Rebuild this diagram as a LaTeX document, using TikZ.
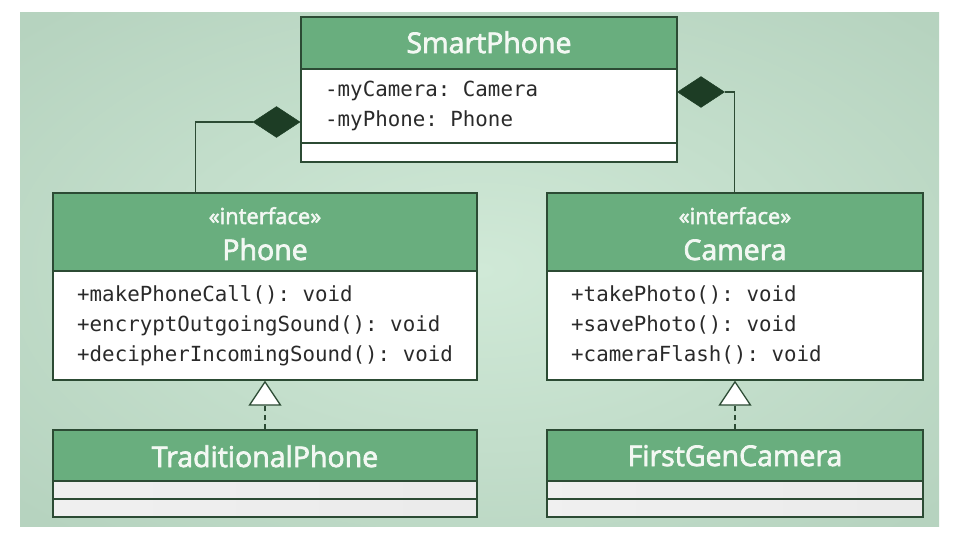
\documentclass[tikz,border=0pt]{standalone}
\usepackage{fontspec}
\setmainfont{Open Sans}
\setmonofont{DejaVu Sans Mono}
\newfontfamily\hdrfont{Open Sans}[FakeBold=2.5]
\usetikzlibrary{shapes.geometric,arrows.meta}
\definecolor{bgin}{HTML}{D0E9D7}
\definecolor{bgout}{HTML}{B6D3BF}
\definecolor{hdrgreen}{HTML}{69AE7E}
\definecolor{border}{HTML}{2C4B34}
\definecolor{dia}{HTML}{1D3D25}
\definecolor{hdrtext}{HTML}{F3F8F3}
\definecolor{bodytext}{HTML}{2A2A2A}
\begin{document}
\begin{tikzpicture}[x=1pt,y=-1pt,
  cls/.style={rectangle, draw=border, line width=1.3pt, inner sep=0pt},
  hdr/.style={cls, fill=hdrgreen},
  body/.style={cls, fill=white},
  comp/.style={cls, left color=black!6, middle color=white, right color=black!8},
  title/.style={font=\hdrfont\fontsize{28.5}{34}\selectfont, text=hdrtext, inner sep=0pt, anchor=base},
  stereo/.style={font=\hdrfont\fontsize{22}{26}\selectfont, text=hdrtext, inner sep=0pt, anchor=base},
  member/.style={font=\ttfamily\fontsize{20.8}{24}\selectfont, text=bodytext, inner sep=0pt, anchor=base west},
  conn/.style={draw=border, line width=1.3pt},
  comp diamond/.style={diamond, fill=dia, draw=dia, line width=0.5pt, minimum width=47pt, minimum height=31pt, inner sep=0pt},
  realize/.style={conn, dash pattern=on 5pt off 4pt, -{Triangle[width=33pt,length=25pt,fill=white,line width=1.3pt]}}
]
\useasboundingbox (0,0) rectangle (960,540);
\fill[white] (0,0) rectangle (960,540);
\begin{scope}
  \clip (20,13) rectangle (939,526);
  \shade[inner color=bgin, outer color=bgout] (-150,-80) rectangle (1110,620);
\end{scope}

% SmartPhone
\node[hdr, minimum width=376pt, minimum height=52pt] (smartH) at (489,43) {};
\node[body, minimum width=376pt, minimum height=74pt] (smartA) at (489,106) {};
\node[body, minimum width=376pt, minimum height=19pt] (smartO) at (489,152.5) {};
\node[title] (smartT) at (489,53) {SmartPhone};
\node[member] (sm1) at (325,97) {-myCamera: Camera};
\node[member] (sm2) at (325,127) {-myPhone: Phone};

% Phone
\node[hdr, minimum width=424pt, minimum height=78pt] (phoneH) at (265,232) {};
\node[body, minimum width=424pt, minimum height=109pt] (phoneB) at (265,325.5) {};
\node[stereo] (phoneS) at (265,224) {«interface»};
\node[title] (phoneT) at (265,260) {Phone};
\node[member] (ph1) at (77,301) {+makePhoneCall(): void};
\node[member] (ph2) at (77,331) {+encryptOutgoingSound(): void};
\node[member] (ph3) at (77,361) {+decipherIncomingSound(): void};

% Camera
\node[hdr, minimum width=376pt, minimum height=78pt] (camH) at (735,232) {};
\node[body, minimum width=376pt, minimum height=109pt] (camB) at (735,325.5) {};
\node[stereo] (camS) at (735,224) {«interface»};
\node[title] (camT) at (735,260) {Camera};
\node[member] (ca1) at (571,301) {+takePhoto(): void};
\node[member] (ca2) at (571,331) {+savePhoto(): void};
\node[member] (ca3) at (571,361) {+cameraFlash(): void};

% TraditionalPhone
\node[hdr, minimum width=424pt, minimum height=51pt] (tradH) at (265,455.5) {};
\node[comp, minimum width=424pt, minimum height=18pt] (tradA) at (265,490) {};
\node[comp, minimum width=424pt, minimum height=18pt] (tradO) at (265,508) {};
\node[title] (tradT) at (265,467) {TraditionalPhone};

% FirstGenCamera
\node[hdr, minimum width=376pt, minimum height=51pt] (fgcH) at (735,455.5) {};
\node[comp, minimum width=376pt, minimum height=18pt] (fgcA) at (735,490) {};
\node[comp, minimum width=376pt, minimum height=18pt] (fgcO) at (735,508) {};
\node[title] (fgcT) at (735,466) {FirstGenCamera};

% Composition
\node[comp diamond] (dL) at (276.5,122) {};
\node[comp diamond] (dR) at (701,92) {};
\draw[conn] (dL.west) -| ([xshift=143pt]phoneH.north west);
\draw[conn] (dR.east) -| ([xshift=188pt]camH.north west);

% Realization
\draw[realize] (tradH.north) -- (phoneB.south);
\draw[realize] (fgcH.north) -- (camB.south);
\end{tikzpicture}
\end{document}
